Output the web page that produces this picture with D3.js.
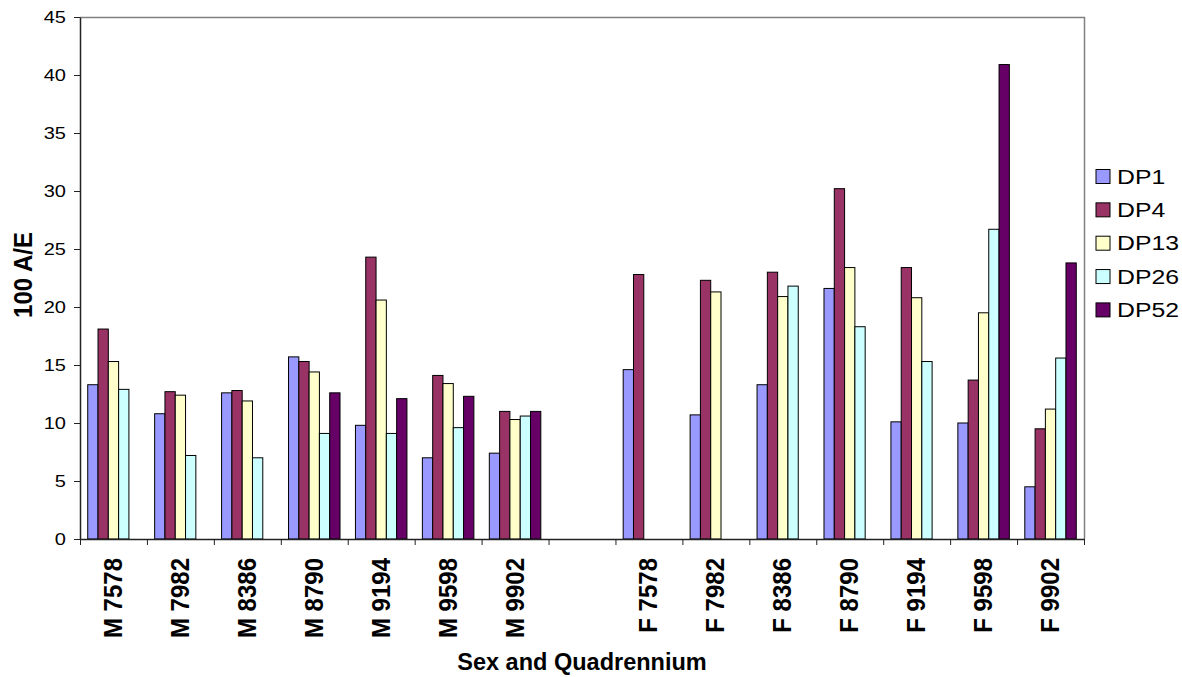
<!DOCTYPE html>
<html>
<head>
<meta charset="utf-8">
<script src="https://cdn.jsdelivr.net/npm/d3@7"></script>
<style>
  html, body { margin: 0; padding: 0; background: #fff; }
  svg { display: block; font-family: "Liberation Sans", Arial, sans-serif; }
</style>
</head>
<body>
<svg id="chart" width="1182" height="677"></svg>
<script>
// Categories: sex and quadrennium (a blank slot separates males from females)
const categories = ["M 7578", "M 7982", "M 8386", "M 8790", "M 9194", "M 9598", "M 9902", "",
                    "F 7578", "F 7982", "F 8386", "F 8790", "F 9194", "F 9598", "F 9902"];

const seriesNames = ["DP1", "DP4", "DP13", "DP26", "DP52"];

// 100 A/E values per series (null = no value)
const DP1  = [13.3, 10.8, 12.6, 15.7,  9.8,  7.0,  7.4, null, 14.6, 10.7, 13.3, 21.6, 10.1, 10.0,  4.5];
const DP4  = [18.1, 12.7, 12.8, 15.3, 24.3, 14.1, 11.0, null, 22.8, 22.3, 23.0, 30.2, 23.4, 13.7,  9.5];
const DP13 = [15.3, 12.4, 11.9, 14.4, 20.6, 13.4, 10.3, null, null, 21.3, 20.9, 23.4, 20.8, 19.5, 11.2];
const DP26 = [12.9,  7.2,  7.0,  9.1,  9.1,  9.6, 10.6, null, null, null, 21.8, 18.3, 15.3, 26.7, 15.6];
const DP52 = [null, null, null, 12.6, 12.1, 12.3, 11.0, null, null, null, null, null, null, 40.9, 23.8];

const yTicks = [0, 5, 10, 15, 20, 25, 30, 35, 40, 45];

const colors = ["#9999FF", "#993366", "#FFFFCC", "#CCFFFF", "#660066"];

const seriesValues = [DP1, DP4, DP13, DP26, DP52];

const svg = d3.select("#chart");

const plot = { left: 80, right: 1084, top: 17, bottom: 539 };

const x = d3.scaleBand()
  .domain(categories)
  .range([plot.left, plot.right])
  .paddingInner(0)
  .paddingOuter(0);

const xSub = d3.scaleBand()
  .domain(seriesNames)
  .range([0, x.bandwidth()])
  .paddingInner(0)
  .paddingOuter(0.75);

const y = d3.scaleLinear().domain([0, 45]).range([plot.bottom, plot.top]);

const color = d3.scaleOrdinal().domain(seriesNames).range(colors);

// plot area frame (top and right)
svg.append("path")
  .attr("d", `M${plot.left},${plot.top + 0.5}H${plot.right + 0.5}V${plot.bottom}`)
  .attr("fill", "none")
  .attr("stroke", "#808080")
  .attr("stroke-width", 1.5);

// bars
const groups = svg.append("g").selectAll("g")
  .data(categories)
  .join("g")
  .attr("transform", d => `translate(${x(d)},0)`);

groups.selectAll("rect")
  .data((c, i) => seriesNames.map((s, k) => ({ s, v: seriesValues[k][i] })).filter(d => d.v != null))
  .join("rect")
  .attr("x", d => xSub(d.s))
  .attr("y", d => y(d.v))
  .attr("width", xSub.bandwidth())
  .attr("height", d => y(0) - y(d.v))
  .attr("fill", d => color(d.s))
  .attr("stroke", "#000")
  .attr("stroke-width", 1);

// y axis
const yAxis = svg.append("g")
  .attr("transform", `translate(${plot.left},0)`)
  .call(d3.axisLeft(y).tickValues(yTicks).tickSize(6).tickSizeOuter(0));
yAxis.select(".domain").attr("stroke", "#222").attr("stroke-width", 1.5);
yAxis.selectAll(".tick line").attr("stroke", "#222");
yAxis.selectAll(".tick text")
  .attr("x", null)
  .attr("dy", "0.36em")
  .attr("transform", "translate(-14,0) scale(1.25,1)")
  .attr("text-anchor", "end")
  .attr("fill", "#000")
  .style("font-size", "16px")
  .style("font-family", "'Liberation Sans', Arial, sans-serif");

// x axis: baseline and boundary tick marks
const xEdge = d3.scaleLinear().domain([0, categories.length]).range([plot.left, plot.right]);
const xAxis = svg.append("g")
  .attr("transform", `translate(0,${plot.bottom})`)
  .call(d3.axisBottom(xEdge).tickValues(d3.range(0, categories.length + 1)).tickFormat("").tickSize(6).tickSizeOuter(0));
xAxis.select(".domain").attr("stroke", "#222").attr("stroke-width", 1.5);
xAxis.selectAll(".tick line").attr("stroke", "#222");

// x category labels, rotated
const xLab = svg.append("g")
  .attr("transform", `translate(0,${plot.bottom})`)
  .call(d3.axisBottom(x).tickSize(0).tickSizeOuter(0));
xLab.select(".domain").remove();
xLab.selectAll(".tick text")
  .attr("y", null)
  .attr("dy", null)
  .attr("transform", "translate(8.5,19) rotate(-90) scale(1,1.07)")
  .attr("text-anchor", "end")
  .attr("fill", "#000")
  .style("font-size", "24px")
  .style("font-weight", "bold")
  .style("font-family", "'Liberation Sans', Arial, sans-serif");

// axis titles
svg.append("text")
  .attr("transform", `translate(31.5,${(plot.top + plot.bottom) / 2 - 3}) rotate(-90) scale(1,1.05)`)
  .attr("text-anchor", "middle")
  .style("font-size", "24px")
  .style("font-weight", "bold")
  .text("100 A/E");

svg.append("text")
  .attr("x", (plot.left + plot.right) / 2)
  .attr("y", 670)
  .attr("text-anchor", "middle")
  .style("font-size", "23.5px")
  .style("font-weight", "bold")
  .text("Sex and Quadrennium");

// legend
const legend = svg.append("g").selectAll("g")
  .data(seriesNames)
  .join("g")
  .attr("transform", (d, i) => `translate(1096,${169.5 + i * 33.35})`);

legend.append("rect")
  .attr("width", 14)
  .attr("height", 14)
  .attr("fill", d => color(d))
  .attr("stroke", "#000")
  .attr("stroke-width", 1);

legend.append("text")
  .attr("transform", "translate(21,14) scale(1.18,1)")
  .style("font-size", "21px")
  .text(d => d);
</script>
</body>
</html>
